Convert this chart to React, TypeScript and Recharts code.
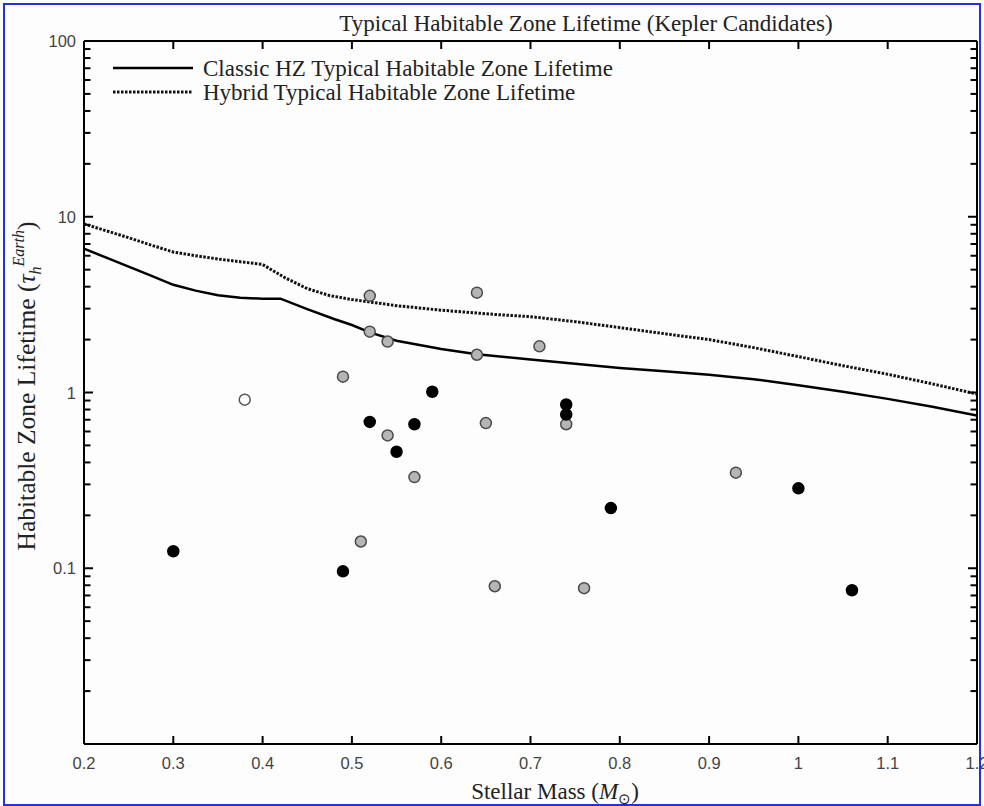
import { ComposedChart, Line, Scatter, XAxis, YAxis } from "recharts";

// stellar mass (M_sun) axis
const massTicks = [0.2, 0.3, 0.4, 0.5, 0.6, 0.7, 0.8, 0.9, 1, 1.1, 1.2];
const massTickLabels = ["0.2", "0.3", "0.4", "0.5", "0.6", "0.7", "0.8", "0.9", "1", "1.1", "1.2"];

// lifetime axis (log)
const lifetimeMajor = [0.01, 0.1, 1, 10, 100];
const lifetimeLabels = ["", "0.1", "1", "10", "100"];
const lifetimeMinor = [
  0.02, 0.03, 0.04, 0.05, 0.06, 0.07, 0.08, 0.09,
  0.2, 0.3, 0.4, 0.5, 0.6, 0.7, 0.8, 0.9,
  2, 3, 4, 5, 6, 7, 8, 9,
  20, 30, 40, 50, 60, 70, 80, 90,
];

// typical HZ lifetime curves
const classicMass = [0.2, 0.225, 0.25, 0.275, 0.3, 0.325, 0.35, 0.375, 0.4, 0.42, 0.45, 0.48, 0.5, 0.52, 0.55, 0.6, 0.64, 0.7, 0.8, 0.85, 0.9, 0.95, 1.0, 1.05, 1.1, 1.15, 1.2];
const classicLifetime = [6.58, 5.85, 5.2, 4.62, 4.1, 3.8, 3.58, 3.46, 3.42, 3.42, 2.98, 2.62, 2.42, 2.2, 1.97, 1.77, 1.65, 1.54, 1.38, 1.32, 1.26, 1.19, 1.1, 1.01, 0.92, 0.83, 0.74];

const hybridMass = [0.2, 0.25, 0.275, 0.3, 0.325, 0.35, 0.4, 0.425, 0.45, 0.475, 0.5, 0.55, 0.6, 0.66, 0.7, 0.75, 0.8, 0.85, 0.9, 0.95, 1.0, 1.05, 1.1, 1.15, 1.2];
const hybridLifetime = [9.1, 7.6, 6.9, 6.3, 6.0, 5.75, 5.35, 4.5, 3.9, 3.56, 3.38, 3.12, 2.94, 2.78, 2.7, 2.53, 2.34, 2.16, 2.0, 1.8, 1.6, 1.42, 1.27, 1.12, 0.98];

// Kepler candidates
const blackMass = [0.3, 0.49, 0.52, 0.57, 0.55, 0.59, 0.74, 0.74, 0.79, 1.0, 1.06];
const blackLifetime = [0.125, 0.096, 0.68, 0.66, 0.46, 1.01, 0.855, 0.75, 0.22, 0.285, 0.075];

const grayMass = [0.52, 0.64, 0.52, 0.54, 0.64, 0.71, 0.49, 0.54, 0.65, 0.57, 0.74, 0.93, 0.51, 0.66, 0.76];
const grayLifetime = [3.55, 3.7, 2.22, 1.95, 1.64, 1.83, 1.23, 0.57, 0.67, 0.33, 0.66, 0.35, 0.142, 0.079, 0.077];

const openMass = [0.38];
const openLifetime = [0.91];

const zip = (xs: number[], ys: number[]) => xs.map((x, i) => ({ x, y: ys[i] }));
const classicData = zip(classicMass, classicLifetime);
const hybridData = zip(hybridMass, hybridLifetime);
const blackData = zip(blackMass, blackLifetime);
const grayData = zip(grayMass, grayLifetime);
const openData = zip(openMass, openLifetime);

// minor log ticks on both frame edges
const leftMinor = lifetimeMinor.map((y) => ({ x: 0.2, y }));
const rightMinor = lifetimeMinor.map((y) => ({ x: 1.2, y }));

const W = 984;
const H = 806;
const tickFont = "'Liberation Sans', Arial, sans-serif";
const serif = "'Liberation Serif', 'Times New Roman', serif";
const textColor = "#222";

function LeftTick({ x, y, payload }: any) {
  const i = lifetimeMajor.indexOf(payload.value);
  return (
    <g>
      <line x1={x} x2={x + 9} y1={y} y2={y} stroke="#000" strokeWidth={2} />
      {lifetimeLabels[i] && (
        <text x={x - 8} y={y + 6} textAnchor="end" fontSize={16.5} fontFamily={tickFont} fill="#444">
          {lifetimeLabels[i]}
        </text>
      )}
    </g>
  );
}

function RightTick({ x, y }: any) {
  return <line x1={x} x2={x - 9} y1={y} y2={y} stroke="#000" strokeWidth={2} />;
}

function BottomTick({ x, y, payload }: any) {
  const i = massTicks.indexOf(payload.value);
  return (
    <g>
      <line x1={x} x2={x} y1={y} y2={y - 8} stroke="#000" strokeWidth={2} />
      <text x={x} y={y + 25} textAnchor="middle" fontSize={16.5} fontFamily={tickFont} fill="#444">
        {massTickLabels[i]}
      </text>
    </g>
  );
}

function TopTick({ x, y }: any) {
  return <line x1={x} x2={x} y1={y} y2={y + 8} stroke="#000" strokeWidth={2} />;
}

const dot = (fill: string, stroke: string) => (p: any) =>
  <circle cx={p.cx} cy={p.cy} r={5.5} fill={fill} stroke={stroke} strokeWidth={1.5} />;

const minorMark = (dir: number) => (p: any) =>
  <path d={`M${p.cx},${p.cy}h${dir * 6.5}`} stroke="#000" strokeWidth={2} fill="none" />;

export default function App() {
  return (
    <div style={{ position: "relative", width: W, height: H, background: "#fdfdfd" }}>
      <style>{"body{margin:0}"}</style>
      <ComposedChart width={W} height={H} margin={{ top: 0, right: 0, bottom: 0, left: 0 }}>
        <XAxis
          xAxisId="bottom"
          dataKey="x"
          type="number"
          domain={[0.2, 1.2]}
          ticks={massTicks}
          interval={0}
          allowDataOverflow
          height={62}
          tickSize={0}
          tickMargin={0}
          tickLine={false}
          axisLine={{ stroke: "#000", strokeWidth: 2 }}
          tick={<BottomTick />}
        />
        <XAxis
          xAxisId="top"
          orientation="top"
          dataKey="x"
          type="number"
          domain={[0.2, 1.2]}
          ticks={massTicks}
          interval={0}
          allowDataOverflow
          height={41}
          tickSize={0}
          tickMargin={0}
          tickLine={false}
          axisLine={{ stroke: "#000", strokeWidth: 2 }}
          tick={<TopTick />}
        />
        <YAxis
          yAxisId="left"
          dataKey="y"
          scale="log"
          type="number"
          domain={[0.01, 100]}
          ticks={lifetimeMajor}
          interval={0}
          allowDataOverflow
          width={84}
          tickSize={0}
          tickMargin={0}
          tickLine={false}
          axisLine={{ stroke: "#000", strokeWidth: 2 }}
          tick={<LeftTick />}
        />
        <YAxis
          yAxisId="right"
          orientation="right"
          dataKey="y"
          scale="log"
          type="number"
          domain={[0.01, 100]}
          ticks={lifetimeMajor}
          interval={0}
          allowDataOverflow
          width={7}
          tickSize={0}
          tickMargin={0}
          tickLine={false}
          axisLine={{ stroke: "#000", strokeWidth: 2 }}
          tick={<RightTick />}
        />
        <Scatter xAxisId="bottom" yAxisId="left" data={leftMinor} dataKey="y" shape={minorMark(1)} isAnimationActive={false} />
        <Scatter xAxisId="bottom" yAxisId="left" data={rightMinor} dataKey="y" shape={minorMark(-1)} isAnimationActive={false} />
        <Line
          xAxisId="bottom"
          yAxisId="left"
          data={hybridData}
          dataKey="y"
          type="linear"
          stroke="#111"
          strokeWidth={3}
          strokeDasharray="2.5 1.5"
          dot={false}
          isAnimationActive={false}
        />
        <Line
          xAxisId="bottom"
          yAxisId="left"
          data={classicData}
          dataKey="y"
          type="linear"
          stroke="#000"
          strokeWidth={2.5}
          dot={false}
          isAnimationActive={false}
        />
        <Scatter xAxisId="bottom" yAxisId="left" data={grayData} dataKey="y" shape={dot("#b5b5b5", "#4a4a4a")} isAnimationActive={false} />
        <Scatter xAxisId="bottom" yAxisId="left" data={blackData} dataKey="y" shape={dot("#000", "#000")} isAnimationActive={false} />
        <Scatter xAxisId="bottom" yAxisId="left" data={openData} dataKey="y" shape={dot("#fff", "#555")} isAnimationActive={false} />
      </ComposedChart>
      <svg width={W} height={H} style={{ position: "absolute", left: 0, top: 0, pointerEvents: "none" }}>
        <rect x={4} y={4} width={976} height={801} fill="none" stroke="#2233dd" strokeWidth={2} />
        <text x={586} y={31} textAnchor="middle" fontSize={23} fontFamily={serif} fill={textColor}>
          Typical Habitable Zone Lifetime (Kepler Candidates)
        </text>
        <line x1={113} x2={193} y1={68} y2={68} stroke="#000" strokeWidth={2.5} />
        <line x1={113} x2={193} y1={92} y2={92} stroke="#111" strokeWidth={3} strokeDasharray="2.5 1.5" />
        <text x={203} y={75.5} fontSize={23} fontFamily={serif} fill={textColor}>
          Classic HZ Typical Habitable Zone Lifetime
        </text>
        <text x={203} y={99.5} fontSize={23} fontFamily={serif} fill={textColor}>
          Hybrid Typical Habitable Zone Lifetime
        </text>
        <text x={555} y={799} textAnchor="middle" fontSize={23} fontFamily={serif} fill={textColor}>
          Stellar Mass (<tspan fontStyle="italic">M</tspan>
          <tspan fontSize={15} dy={5}>⊙</tspan>
          <tspan dy={-5}>)</tspan>
        </text>
        <text
          transform="translate(35,386) rotate(-90)"
          textAnchor="middle"
          fontSize={25.5}
          fontFamily={serif}
          fill={textColor}
        >
          Habitable Zone Lifetime (<tspan fontStyle="italic">τ</tspan>
          <tspan fontStyle="italic" fontSize={16} dy={6}>h</tspan>
          <tspan fontStyle="italic" fontSize={16} dy={-17}>Earth</tspan>
          <tspan dy={11}>)</tspan>
        </text>
      </svg>
    </div>
  );
}
